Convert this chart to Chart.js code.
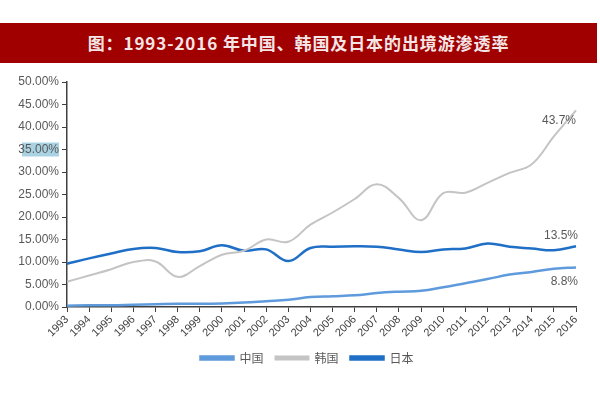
<!DOCTYPE html>
<html>
<head>
<meta charset="utf-8">
<script src="https://cdn.jsdelivr.net/npm/chart.js@4/dist/chart.umd.min.js"></script>
<style>
  body { margin: 0; background: #fff; }
  #wrap { position: relative; width: 600px; height: 400px; }
  #banner {
    position: absolute; left: 0; top: 23px; width: 597px; height: 40px;
    background: #a00000; color: #f4e6e6; text-align: center;
    font: bold 17px "Noto Sans CJK SC", sans-serif; line-height: 40px;
    letter-spacing: 0.9px;
  }
  canvas { position: absolute; left: 0; top: 0; }
</style>
</head>
<body>
<div id="wrap">
  <div id="banner">图：1993-2016 年中国、韩国及日本的出境游渗透率</div>
  <canvas id="chart" width="600" height="400"></canvas>
</div>
<script>
const years = ['1993','1994','1995','1996','1997','1998','1999','2000','2001','2002','2003','2004',
  '2005','2006','2007','2008','2009','2010','2011','2012','2013','2014','2015','2016'];
const seriesNames = ['中国', '韩国', '日本'];
const china = [0.3, 0.4, 0.4, 0.5, 0.6, 0.7, 0.7, 0.8, 1.0, 1.3, 1.6, 2.2,
  2.4, 2.6, 3.1, 3.4, 3.6, 4.4, 5.3, 6.2, 7.2, 7.8, 8.5, 8.8];
const korea = [5.6, 7.0, 8.4, 10.0, 10.1, 6.7, 9.1, 11.6, 12.5, 15.0, 14.5, 18.3,
  21.0, 24.0, 27.3, 24.2, 19.3, 25.3, 25.4, 27.6, 29.8, 31.7, 37.9, 43.7];
const japan = [9.6, 10.8, 11.9, 12.9, 13.1, 12.2, 12.4, 13.7, 12.5, 12.8, 10.2, 13.1,
  13.4, 13.5, 13.4, 12.8, 12.2, 12.8, 13.0, 14.1, 13.4, 13.0, 12.6, 13.5];
const endLabels = ['8.8%', '43.7%', '13.5%'];
const yTicks = [0, 5, 10, 15, 20, 25, 30, 35, 40, 45, 50];

const colors = ['#5f9bdc', '#c4c4c4', '#1f6fc6'];
const widths = [2.5, 2, 2.5];
const labelOffsets = [[0, 14], [-2, 10], [0, -11]];

const endLabelPlugin = {
  id: 'endLabels',
  afterLayout(chart) {
    // legend sits a little right of centre in the source
    chart.legend.left += 19;
    chart.legend.right += 19;
  },
  beforeDraw(chart) {
    // light blue highlight behind the 35.00% tick, as in the source image
    const ctx = chart.ctx;
    const y = chart.scales.y.getPixelForValue(35);
    ctx.save();
    ctx.fillStyle = '#a9d3e3';
    ctx.fillRect(22, y - 7, 37, 14);
    ctx.restore();
  },
  afterDatasetsDraw(chart) {
    const ctx = chart.ctx;
    ctx.save();
    ctx.font = '12px Arial, "Liberation Sans", sans-serif';
    ctx.fillStyle = '#595959';
    ctx.textAlign = 'right';
    ctx.textBaseline = 'middle';
    chart.data.datasets.forEach((ds, i) => {
      const meta = chart.getDatasetMeta(i);
      const pt = meta.data[meta.data.length - 1];
      ctx.fillText(endLabels[i], pt.x + 2 + labelOffsets[i][0], pt.y + labelOffsets[i][1]);
    });
    ctx.restore();
  }
};

new Chart(document.getElementById('chart'), {
  type: 'line',
  data: {
    labels: years,
    datasets: [china, korea, japan].map((d, i) => ({
      label: seriesNames[i],
      data: d,
      borderColor: colors[i],
      backgroundColor: colors[i],
      borderWidth: widths[i],
      pointRadius: 0,
      tension: 0.4,
      fill: false
    }))
  },
  options: {
    responsive: false,
    animation: false,
    layout: { padding: { top: 82, right: 24, left: 0, bottom: 26 } },
    plugins: {
      tooltip: { enabled: false },
      legend: {
        position: 'bottom',
        labels: {
          boxWidth: 33,
          boxHeight: 3,
          padding: 12,
          color: '#595959',
          font: { family: '"Noto Sans CJK SC", sans-serif', size: 12 }
        }
      }
    },
    scales: {
      x: {
        offset: false,
        afterFit(scale) { scale.height = 33; },
        grid: { drawOnChartArea: false, drawTicks: true, tickLength: 5, color: '#404040' },
        border: { color: '#404040', width: 1.5 },
        ticks: {
          minRotation: 45, maxRotation: 45, autoSkip: false, padding: 1,
          color: '#404040',
          font: { family: 'Arial, "Liberation Sans", sans-serif', size: 11 }
        }
      },
      y: {
        min: 0, max: 50,
        afterFit(scale) { scale.width = 67; },
        afterBuildTicks(scale) { scale.ticks = yTicks.map(v => ({ value: v })); },
        grid: { drawOnChartArea: false, drawTicks: true, tickLength: 5, color: '#404040' },
        border: { color: '#404040', width: 1.5 },
        ticks: {
          padding: 3,
          color: '#595959',
          font: { family: 'Arial, "Liberation Sans", sans-serif', size: 12 },
          callback: v => v.toFixed(2) + '%'
        }
      }
    }
  },
  plugins: [endLabelPlugin]
});
</script>
</body>
</html>
